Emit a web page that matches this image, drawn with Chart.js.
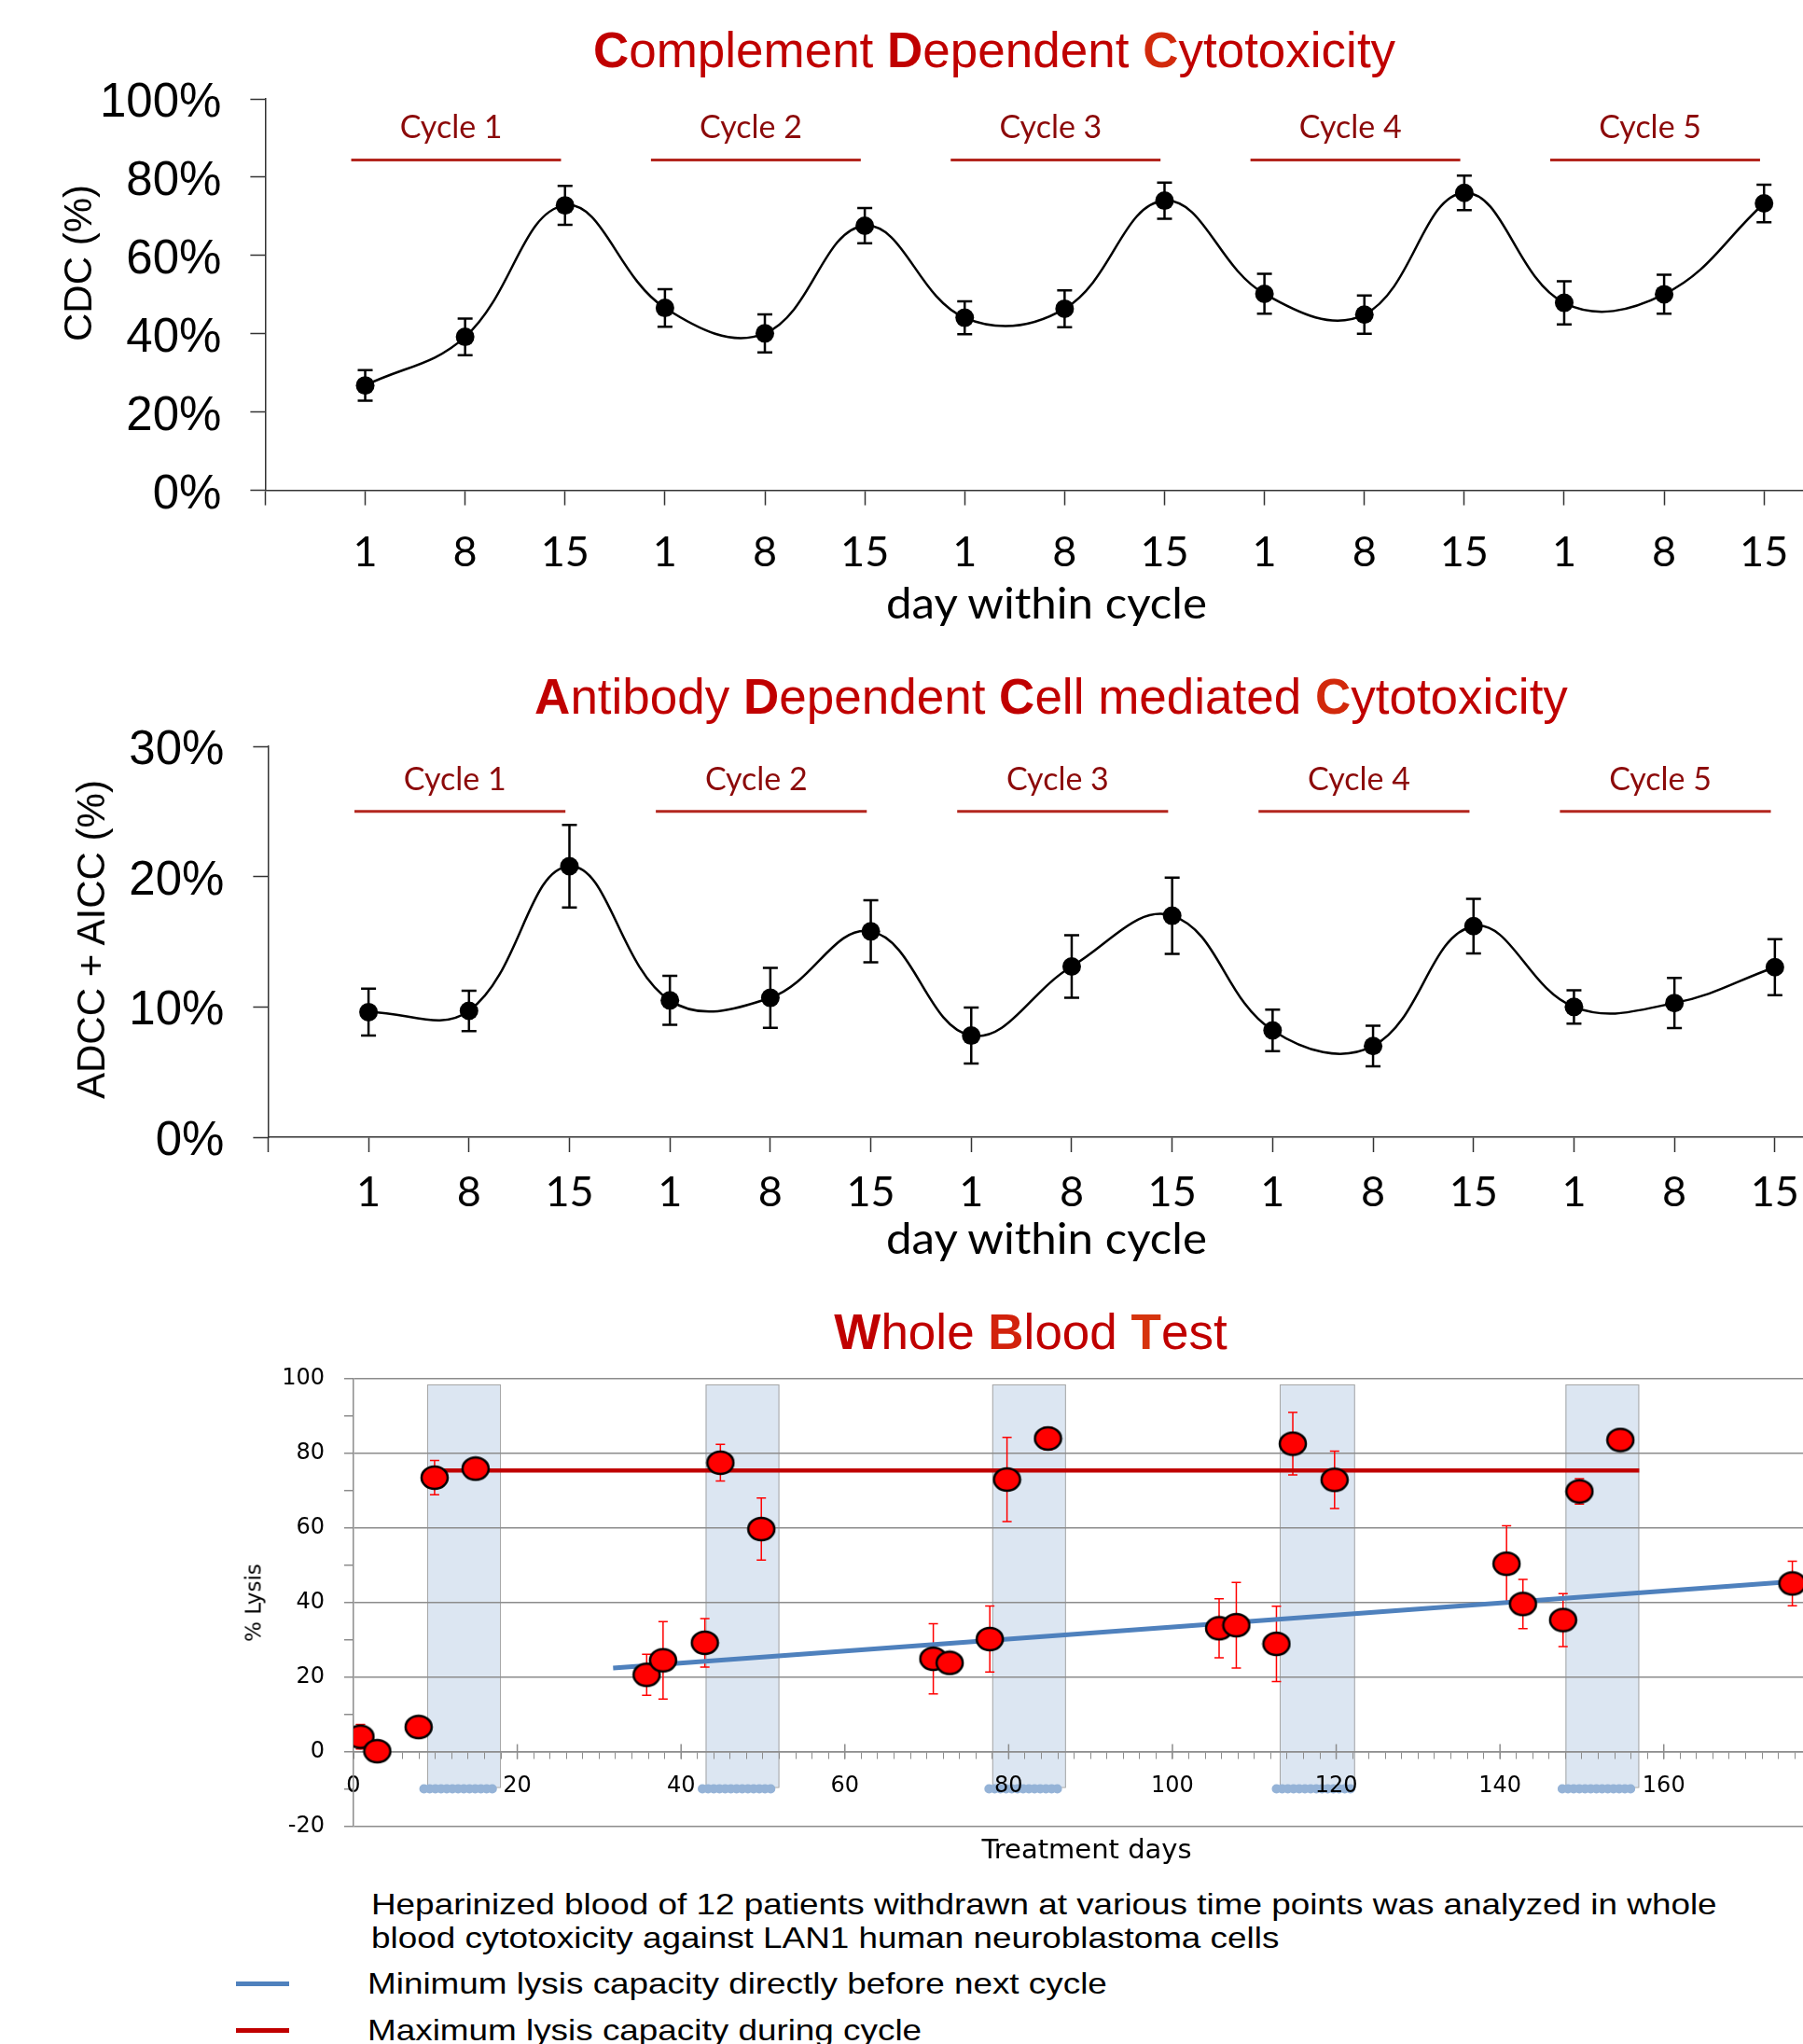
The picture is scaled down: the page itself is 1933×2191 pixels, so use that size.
<!DOCTYPE html>
<html>
<head>
<meta charset="utf-8">
<script src="https://cdn.jsdelivr.net/npm/chart.js@4.4.1/dist/chart.umd.min.js"></script>
<style>
  html, body { margin: 0; padding: 0; background: #fff; }
  #page { position: relative; width: 1933px; height: 2191px; overflow: hidden; background: #fff; }
  canvas { position: absolute; left: 0; }
  .txt { position: absolute; white-space: nowrap; transform: translate(-50%, -50%); line-height: 1; }
  .title { font-family: 'Liberation Sans', Arial, sans-serif; font-size: 53px; color: #c00000; }
  .ytitle { font-family: 'Liberation Sans', Arial, sans-serif; font-size: 42px; color: #000; transform: translate(-50%, -50%) rotate(-90deg); }
  .xtitle { font-family: Lato, sans-serif; font-size: 46px; color: #000; transform: translate(-50%, -50%) scaleX(1.07); }
  .note { position: absolute; font-family: 'Liberation Sans', Arial, sans-serif; font-size: 32px; white-space: nowrap; line-height: 1; color: #000; transform: scaleX(1.152); transform-origin: 0 50%; }
  .swatch { position: absolute; left: 253px; width: 57px; height: 5px; }
</style>
</head>
<body>
<div id="page">
  <div class="txt title" style="left:1066px;top:53px"><b>C</b>omplement <b>D</b>ependent <b style="color:#d22a0c">C</b>ytotoxicity</div>
  <canvas id="cdcChart" width="1933" height="700" style="top:0px"></canvas>
  <div class="txt ytitle" style="left:84px;top:282px">CDC (%)</div>
  <div class="txt xtitle" style="left:1122px;top:646px">day within cycle</div>

  <div class="txt title" style="left:1127px;top:746px"><b>A</b>ntibody <b>D</b>ependent <b>C</b>ell mediated <b style="color:#d22a0c">C</b>ytotoxicity</div>
  <canvas id="adccChart" width="1933" height="680" style="top:700px"></canvas>
  <div class="txt ytitle" style="left:98px;top:1007px">ADCC + AICC (%)</div>
  <div class="txt xtitle" style="left:1122px;top:1327px">day within cycle</div>

  <div class="txt title" style="left:1105px;top:1427px"><b>W</b>hole <b style="color:#d2220c">B</b>lood <b style="color:#d6340e">T</b>est</div>
  <canvas id="lysisChart" width="1933" height="540" style="top:1440px"></canvas>
  <div class="txt" style="left:272px;top:1718px;font-family:'DejaVu Sans',sans-serif;font-size:23px;transform:translate(-50%,-50%) rotate(-90deg)">% Lysis</div>
  <div class="txt" style="left:1165px;top:1982px;font-family:'DejaVu Sans',sans-serif;font-size:29px">Treatment days</div>

  <div class="note" style="left:398px;top:2025px">Heparinized blood of 12 patients withdrawn at various time points was analyzed in whole</div>
  <div class="note" style="left:398px;top:2061px">blood cytotoxicity against LAN1 human neuroblastoma cells</div>
  <div class="swatch" style="top:2124px;background:#4f81bd"></div>
  <div class="note" style="left:394px;top:2110px">Minimum lysis capacity directly before next cycle</div>
  <div class="swatch" style="top:2174px;background:#c00000"></div>
  <div class="note" style="left:394px;top:2160px">Maximum lysis capacity during cycle</div>
</div>
<script>
// 数据 - 两个周期图
const dayLabels = ["1", "8", "15", "1", "8", "15", "1", "8", "15", "1", "8", "15", "1", "8", "15"];
const cycleNames = ["Cycle 1", "Cycle 2", "Cycle 3", "Cycle 4", "Cycle 5"];
const cdcTicks = [0, 20, 40, 60, 80, 100];
const cdcValues = [26.8, 39.2, 72.8, 46.6, 40.1, 67.6, 44.1, 46.4, 74.0, 50.2, 44.9, 76.0, 47.9, 50.1, 73.3];
const cdcErrors = [3.9, 4.65, 5.0, 4.8, 4.85, 4.5, 4.2, 4.7, 4.6, 5.1, 4.9, 4.4, 5.5, 4.95, 4.8];
const adccTicks = [0, 10, 20, 30];
const adccValues = [9.6, 9.7, 20.8, 10.5, 10.7, 15.8, 7.8, 13.1, 17.0, 8.2, 7.0, 16.2, 10.0, 10.3, 13.05];
const adccErrors = [1.8, 1.55, 3.17, 1.88, 2.3, 2.38, 2.15, 2.4, 2.93, 1.6, 1.55, 2.1, 1.28, 1.93, 2.15];

// 数据 - whole blood test
const lysisDays = [0.85, 2.9, 7.95, 9.9, 14.9, 35.8, 37.8, 42.9, 44.8, 49.8, 70.8, 72.8, 77.7, 79.8, 84.8,
  105.7, 107.8, 112.7, 114.7, 119.8, 140.8, 142.8, 147.7, 149.7, 154.7, 175.7];
const lysisValues = [4.0, 0.1, 6.6, 73.5, 75.9, 20.6, 24.5, 29.2, 77.5, 59.7, 24.9, 23.8, 30.2, 73.0, 84.0,
  33.1, 33.9, 28.9, 82.6, 72.9, 50.4, 39.6, 35.3, 69.8, 83.6, 45.1];
const lysisErrors = [3.3, 0, 0, 4.6, 0, 5.5, 10.4, 6.5, 4.9, 8.3, 9.4, 0, 8.85, 11.3, 3.0,
  7.9, 11.5, 10.1, 8.4, 7.7, 10.2, 6.6, 7.1, 3.4, 0, 6.0];
const lysisTicks = [-20, -10, 0, 10, 20, 30, 40, 50, 60, 70, 80, 90, 100];
const cycleStartDays = [9, 43, 78, 113.1, 148];
const cycleEndDays = [18, 52, 87, 122.3, 157];
const maxLineDays = [10, 157];
const maxLineValues = [75.4, 75.4];
const minLineDays = [31.7, 177];
const minLineValues = [22.4, 45.8];

// 误差线
const errorBarPlugin = {
  id: "errorBars",
  beforeDatasetsDraw(chart, args, opts) {
    const ctx = chart.ctx, y = chart.scales.y;
    chart.data.datasets.forEach((ds, di) => {
      if (!ds.errorBars) return;
      const meta = chart.getDatasetMeta(di);
      ctx.save();
      ctx.strokeStyle = opts.color;
      ctx.lineWidth = opts.width;
      meta.data.forEach((pt, i) => {
        const e = ds.errorBars[i];
        if (!e) return;
        const v = ds.data[i].y;
        const top = y.getPixelForValue(v + e), bot = y.getPixelForValue(v - e);
        ctx.beginPath();
        ctx.moveTo(pt.x, top); ctx.lineTo(pt.x, bot);
        ctx.moveTo(pt.x - opts.cap, top); ctx.lineTo(pt.x + opts.cap, top);
        ctx.moveTo(pt.x - opts.cap, bot); ctx.lineTo(pt.x + opts.cap, bot);
        ctx.stroke();
      });
      ctx.restore();
    });
  }
};

// 周期标签 + 红线
const cyclePlugin = {
  id: "cycles",
  afterDatasetsDraw(chart, args, opts) {
    const { ctx, scales: { x, y } } = chart;
    ctx.save();
    cycleNames.forEach((name, i) => {
      const ly = y.getPixelForValue(opts.lineValue);
      ctx.strokeStyle = "#b3261e";
      ctx.lineWidth = 3;
      ctx.beginPath();
      ctx.moveTo(x.getPixelForValue(3 * i + 0.86), ly);
      ctx.lineTo(x.getPixelForValue(3 * i + 2.96), ly);
      ctx.stroke();
      ctx.fillStyle = "#8c0a0a";
      ctx.font = "34px Lato";
      ctx.textAlign = "center";
      ctx.textBaseline = "middle";
      ctx.fillText(name, x.getPixelForValue(3 * i + 1.86), y.getPixelForValue(opts.labelValue));
    });
    ctx.restore();
  }
};

// 轴的自动留白会挤压绘图区, 这里清掉
function noPadding(s) {
  s.paddingLeft = 0; s.paddingRight = 0; s.paddingTop = 0; s.paddingBottom = 0;
}

function makeCycleChart(id, cfg) {
  const canvas = document.getElementById(id);
  const axisColor = "#333";
  return new Chart(canvas.getContext("2d"), {
    type: "line",
    data: {
      datasets: [{
        data: cfg.values.map((v, i) => ({ x: i + 1, y: v })),
        errorBars: cfg.errors,
        borderColor: "#000", borderWidth: 2.5, tension: 0.4,
        pointRadius: 10, pointBackgroundColor: "#000", pointBorderWidth: 0, fill: false
      }]
    },
    options: {
      responsive: false, animation: false,
      layout: { autoPadding: false, padding: { top: cfg.top, left: 0, right: 0, bottom: 0 } },
      plugins: {
        legend: { display: false }, tooltip: { enabled: false },
        errorBars: { color: "#000", width: 2.5, cap: 8 },
        cycles: { lineValue: cfg.lineValue, labelValue: cfg.labelValue }
      },
      scales: {
        x: {
          type: "linear", min: 0, max: cfg.xMax,
          afterBuildTicks: s => { s.ticks = [0].concat(dayLabels.map((d, i) => i + 1)).map(v => ({ value: v })); },
          afterFit: s => { s.height = canvas.height - cfg.bottom; noPadding(s); },
          ticks: { callback: v => v === 0 ? "" : dayLabels[v - 1], font: { family: "Lato", size: 45 }, color: "#000", padding: cfg.xPad, maxRotation: 0, autoSkip: false },
          grid: { drawOnChartArea: false, tickLength: 16, tickColor: axisColor, tickWidth: 1.5 },
          border: { color: axisColor, width: 1.5 }
        },
        y: {
          min: 0, max: cfg.yMax,
          afterBuildTicks: s => { s.ticks = cfg.yTicks.map(v => ({ value: v })); },
          afterFit: s => { s.width = cfg.left; noPadding(s); },
          ticks: { callback: v => v + "%", font: { family: "Liberation Sans", size: 51 }, color: "#000", padding: 31, labelOffset: 5 },
          grid: { drawOnChartArea: false, tickLength: 16, tickColor: axisColor, tickWidth: 1.5 },
          border: { color: axisColor, width: 1.5 }
        }
      }
    },
    plugins: [errorBarPlugin, cyclePlugin]
  });
}

makeCycleChart("cdcChart", {
  values: cdcValues, errors: cdcErrors, yTicks: cdcTicks, yMax: 100, xMax: 15.39,
  top: 106, bottom: 525.6, left: 284.4, xPad: 24, lineValue: 84.4, labelValue: 92.6
});
makeCycleChart("adccChart", {
  values: adccValues, errors: adccErrors, yTicks: adccTicks, yMax: 30, xMax: 15.28,
  top: 100, bottom: 519, left: 287.4, xPad: 16, lineValue: 25, labelValue: 27.4
});

// 红色椭圆点
function ellipseMarker(w, h) {
  const c = document.createElement("canvas");
  c.width = w + 4; c.height = h + 4;
  const g = c.getContext("2d");
  g.beginPath();
  g.ellipse(c.width / 2, c.height / 2, w / 2, h / 2, 0, 0, Math.PI * 2);
  g.fillStyle = "#ff0000"; g.fill();
  g.lineWidth = 2.5; g.strokeStyle = "#000"; g.stroke();
  return c;
}

// 周期阴影带 + 底部点线 + 主刻度
const bandPlugin = {
  id: "bands",
  beforeDraw(chart) {
    const { ctx, scales: { x, y } } = chart;
    ctx.save();
    cycleStartDays.forEach((s, i) => {
      const x1 = x.getPixelForValue(s), x2 = x.getPixelForValue(cycleEndDays[i]);
      const top = y.getPixelForValue(98.5), bot = y.getPixelForValue(-9.5);
      ctx.fillStyle = "#dce6f2";
      ctx.fillRect(x1, top, x2 - x1, bot - top);
      ctx.strokeStyle = "#a6a6a6"; ctx.lineWidth = 1;
      ctx.strokeRect(x1 + 0.5, top + 0.5, x2 - x1 - 1, bot - top);
      ctx.strokeStyle = "#95b3d7"; ctx.lineWidth = 10; ctx.lineCap = "round";
      ctx.setLineDash([0.1, 6]);
      ctx.beginPath();
      ctx.moveTo(x.getPixelForValue(s - 0.4), y.getPixelForValue(-10));
      ctx.lineTo(x.getPixelForValue(cycleEndDays[i] - 0.5), y.getPixelForValue(-10));
      ctx.stroke();
      ctx.setLineDash([]);
    });
    ctx.restore();
  },
  beforeDatasetsDraw(chart) {
    const { ctx, scales: { x, y } } = chart;
    const y0 = y.getPixelForValue(0);
    ctx.save();
    ctx.strokeStyle = "#8c8c8c"; ctx.lineWidth = 1.5;
    for (let d = 20; d <= 160; d += 20) {
      const px = x.getPixelForValue(d);
      ctx.beginPath(); ctx.moveTo(px, y0 - 8); ctx.lineTo(px, y0 + 8); ctx.stroke();
    }
    ctx.restore();
  }
};

const lysisCanvas = document.getElementById("lysisChart");
const dayTicks = [];
for (let d = 0; d <= 176; d += 2) dayTicks.push(d);
new Chart(lysisCanvas.getContext("2d"), {
  type: "line",
  data: {
    datasets: [
      { data: lysisDays.map((d, i) => ({ x: d, y: lysisValues[i] })), errorBars: lysisErrors, showLine: false,
        pointStyle: ellipseMarker(28, 24), pointRadius: 14 },
      { data: maxLineDays.map((d, i) => ({ x: d, y: maxLineValues[i] })), borderColor: "#c00000", borderWidth: 4.5, pointRadius: 0 },
      { data: minLineDays.map((d, i) => ({ x: d, y: minLineValues[i] })), borderColor: "#4f81bd", borderWidth: 5, pointRadius: 0 }
    ]
  },
  options: {
    responsive: false, animation: false,
    layout: { autoPadding: false, padding: { top: 38, left: 0, right: 0, bottom: 22.5 } },
    plugins: { legend: { display: false }, tooltip: { enabled: false }, errorBars: { color: "#ff0000", width: 1.5, cap: 5 } },
    scales: {
      x: {
        type: "linear", min: 0, max: 177, position: { y: 0 },
        afterBuildTicks: s => { s.ticks = dayTicks.map(v => ({ value: v })); },
        afterFit: s => { s.height = 0; noPadding(s); },
        ticks: { callback: v => v % 20 === 0 && v <= 160 ? v : "", font: { family: "DejaVu Sans", size: 24 }, color: "#000", padding: 16, maxRotation: 0, autoSkip: false },
        grid: { drawOnChartArea: false, tickLength: 7, tickColor: "#8c8c8c", tickWidth: 1 },
        border: { color: "#8c8c8c", width: 1.5 }
      },
      y: {
        min: -20, max: 100,
        afterBuildTicks: s => { s.ticks = lysisTicks.map(v => ({ value: v })); },
        afterFit: s => { s.width = 379; noPadding(s); },
        ticks: { callback: v => v % 20 === 0 ? v : "", font: { family: "DejaVu Sans", size: 24 }, color: "#000", padding: 21 },
        grid: { color: c => c.tick && c.tick.value % 20 === 0 ? "#8c8c8c" : "rgba(0,0,0,0)", lineWidth: 1.5, tickLength: 10, tickColor: "#8c8c8c", tickWidth: 1.5 },
        border: { color: "#8c8c8c", width: 1.5 }
      }
    }
  },
  plugins: [bandPlugin, errorBarPlugin]
});
</script>
</body>
</html>
